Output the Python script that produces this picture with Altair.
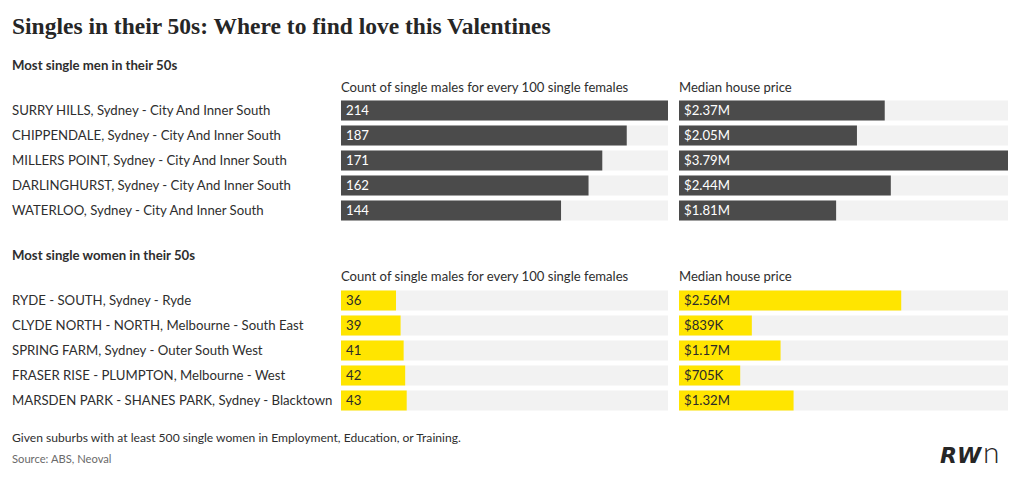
import altair as alt
import pandas as pd

# Suburbs with the most single men in their 50s
men_suburbs = [
    "SURRY HILLS, Sydney - City And Inner South",
    "CHIPPENDALE, Sydney - City And Inner South",
    "MILLERS POINT, Sydney - City And Inner South",
    "DARLINGHURST, Sydney - City And Inner South",
    "WATERLOO, Sydney - City And Inner South",
]
men_ratio = [214, 187, 171, 162, 144]          # single males per 100 single females
men_price = [2.37, 2.05, 3.79, 2.44, 1.81]     # median house price, $M

# Suburbs with the most single women in their 50s
women_suburbs = [
    "RYDE - SOUTH, Sydney - Ryde",
    "CLYDE NORTH - NORTH, Melbourne - South East",
    "SPRING FARM, Sydney - Outer South West",
    "FRASER RISE - PLUMPTON, Melbourne - West",
    "MARSDEN PARK - SHANES PARK, Sydney - Blacktown",
]
women_ratio = [36, 39, 41, 42, 43]
women_price = [2.56, 0.839, 1.17, 0.705, 1.32]

FONT = "Lato"
TEXT = "#2e2e2e"
GAP = 3.6  # blank rows between the two sections


def price_text(v):
    return f"${v * 1000:.0f}K" if v < 1 else f"${v:.2f}M"


rows = []
for i, (s, r, p) in enumerate(zip(men_suburbs, men_ratio, men_price)):
    rows.append(dict(section="men", suburb=s, ratio=r, price=p, price_label=price_text(p), slot=i))
for i, (s, r, p) in enumerate(zip(women_suburbs, women_ratio, women_price)):
    rows.append(dict(section="women", suburb=s, ratio=r, price=p, price_label=price_text(p), slot=i + len(men_suburbs) + GAP - 1))
df = pd.DataFrame(rows)

ratio_max = max(men_ratio + women_ratio)
price_max = max(men_price + women_price)
last_slot = df["slot"].max()

y_scale = alt.Scale(domain=[0, last_slot], range=[110.5, 400.5], zero=False, nice=False, padding=0)
ratio_scale = alt.Scale(domain=[0, ratio_max], range=[341, 668], nice=False, padding=0)
price_scale = alt.Scale(domain=[0, price_max], range=[679, 1008], nice=False, padding=0)
Y = alt.Y("slot:Q", scale=y_scale, axis=None)

bar_colors = alt.Color("section:N", scale=alt.Scale(domain=["men", "women"], range=["#4b4b4b", "#ffe500"]), legend=None)
label_colors = alt.Color("section:N", scale=alt.Scale(domain=["men", "women"], range=["#ffffff", "#2a2a2a"]), legend=None)

base = alt.Chart(df)


def column(field, scale, text_field):
    track = base.mark_bar(size=20, orient="horizontal", color="#f2f2f2").encode(
        x=alt.XDatum(0, scale=scale, axis=None),
        x2=alt.X2Datum(scale.domain[1]),
        y=Y,
    )
    bars = base.mark_bar(size=20, orient="horizontal").encode(
        x=alt.X(f"{field}:Q", scale=scale, axis=None),
        y=Y,
        color=bar_colors,
    )
    labels = base.mark_text(align="left", baseline="middle", dx=5, font=FONT, fontSize=13.2).encode(
        x=alt.XDatum(0, scale=scale, axis=None),
        y=Y,
        text=f"{text_field}:N",
        color=label_colors,
    )
    return [track, bars, labels]


suburb_labels = base.mark_text(align="left", baseline="middle", font=FONT, fontSize=13.2, color=TEXT).encode(
    x=alt.value(12), y=Y, text="suburb:N"
)

one = alt.Data(values=[{}])


def note(text, x, y, size=13, weight="normal", color=TEXT, font=FONT, style="normal", baseline="middle"):
    return alt.Chart(one).mark_text(
        text=text, align="left", baseline=baseline, font=font, fontSize=size,
        fontWeight=weight, fontStyle=style, color=color,
    ).encode(x=alt.value(x), y=alt.value(y))


headers = [
    note("Singles in their 50s: Where to find love this Valentines", 12, 27, size=23.5,
         weight="bold", font="Liberation Serif", color="#262626"),
    note("Most single men in their 50s", 12, 66, size=13.2, weight="bold"),
    note("Count of single males for every 100 single females", 341, 88, size=13.1),
    note("Median house price", 679, 88, size=13.1),
    note("Most single women in their 50s", 12, 256, size=13.2, weight="bold"),
    note("Count of single males for every 100 single females", 341, 277, size=13.1),
    note("Median house price", 679, 277, size=13.1),
    note("Given suburbs with at least 500 single women in Employment, Education, or Training.", 12, 438, size=12.1),
    note("Source: ABS, Neoval", 12, 460, size=11.2, color="#6a6a6a"),
    # RWn wordmark
    note("RW", 940, 463, size=22, weight="bold", style="italic", font="DejaVu Sans",
         color="#262626", baseline="alphabetic"),
    note("n", 983, 463, size=30, weight=300, font="Lato", color="#262626", baseline="alphabetic"),
]

layers = column("ratio", ratio_scale, "ratio") + column("price", price_scale, "price_label") + [suburb_labels] + headers

chart = (
    alt.layer(*layers)
    .resolve_scale(x="independent", color="independent")
    .properties(width=1024, height=487, padding=0, autosize=alt.AutoSizeParams(type="none"), background="white")
    .configure_view(stroke=None)
)

chart.save("out.html", embed_options={"renderer": "svg", "actions": False})
